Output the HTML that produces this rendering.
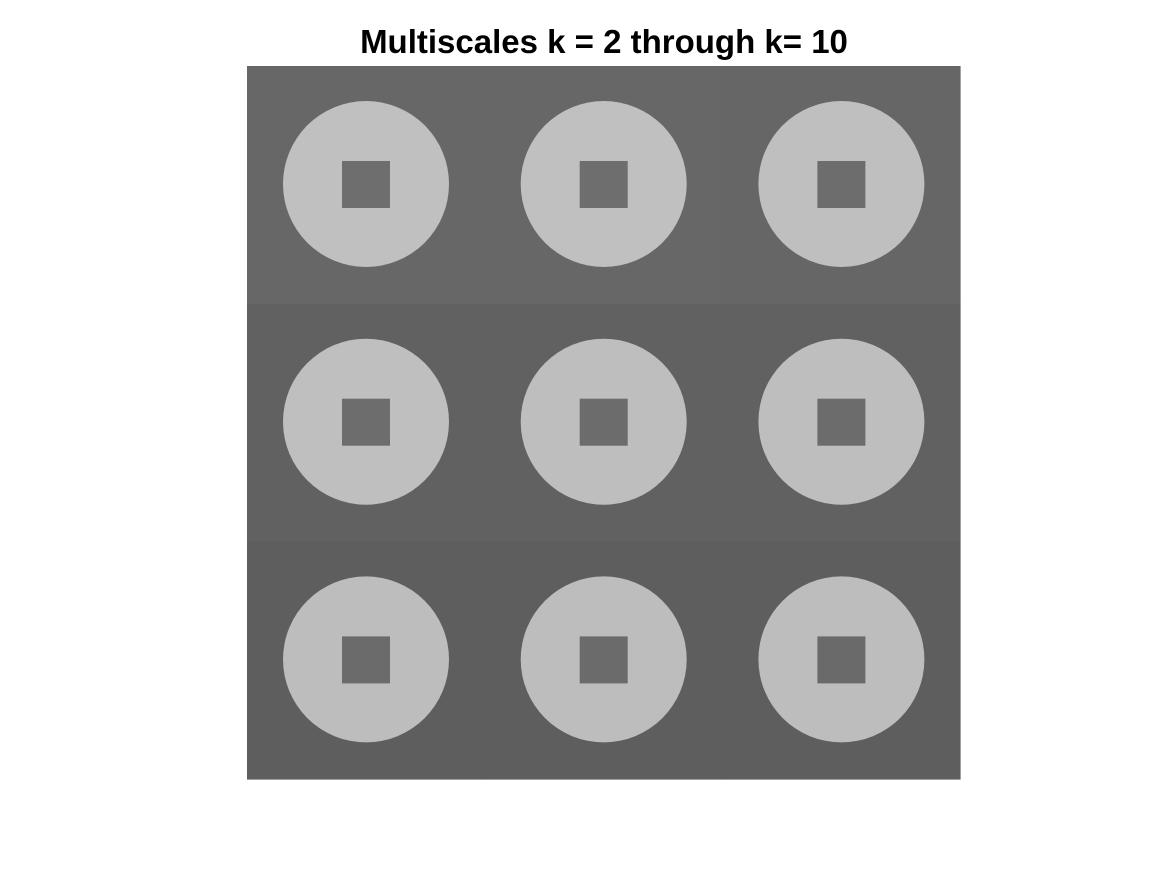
<!DOCTYPE html>
<html><head><meta charset="utf-8"><style>
html,body{margin:0;padding:0;background:#fff;width:1167px;height:875px;overflow:hidden}
svg{display:block}
</style></head><body>
<svg id="fig" width="1167" height="875">
<text x="604" y="53" text-anchor="middle" font-family="Liberation Sans, sans-serif" font-weight="bold" font-size="33" fill="#000">Multiscales k = 2 through k= 10</text>
<g id="tiles"></g>
</svg>
<script>
const scales = [2,3,4,5,6,7,8,9,10];
const bgGray = [103,103,102,97,97,97,94,94,94];
const circleGray = [192,192,191,191,190,190,189,189,189];
const squareGray = [110,110,109,109,108,108,107,107,106];
const x0=247, y0=66, tile=237.7;
const g=document.getElementById('tiles');
const NS='http://www.w3.org/2000/svg';
function col(v){return `rgb(${v},${v},${v})`;}
scales.forEach((k,i)=>{
  const r=Math.floor(i/3), c=i%3;
  const tx=x0+c*tile, ty=y0+r*tile;
  const grp=document.createElementNS(NS,'g');
  
  
  const bg=document.createElementNS(NS,'rect');
  bg.setAttribute('x',tx);bg.setAttribute('y',ty);bg.setAttribute('width',tile+0.5);bg.setAttribute('height',tile+0.5);
  bg.setAttribute('fill',col(bgGray[i]));
  
  
  grp.appendChild(bg);
  const ci=document.createElementNS(NS,'circle');
  ci.setAttribute('cx',tx+119);ci.setAttribute('cy',ty+118);ci.setAttribute('r',83);
  ci.setAttribute('fill',col(circleGray[i]));
  
  
  grp.appendChild(ci);
  const sq=document.createElementNS(NS,'rect');
  sq.setAttribute('x',tx+95);sq.setAttribute('y',ty+95);sq.setAttribute('width',48);sq.setAttribute('height',47);
  sq.setAttribute('fill',col(squareGray[i]));
  
  
  grp.appendChild(sq);
  g.appendChild(grp);
});
</script>
</body></html>
